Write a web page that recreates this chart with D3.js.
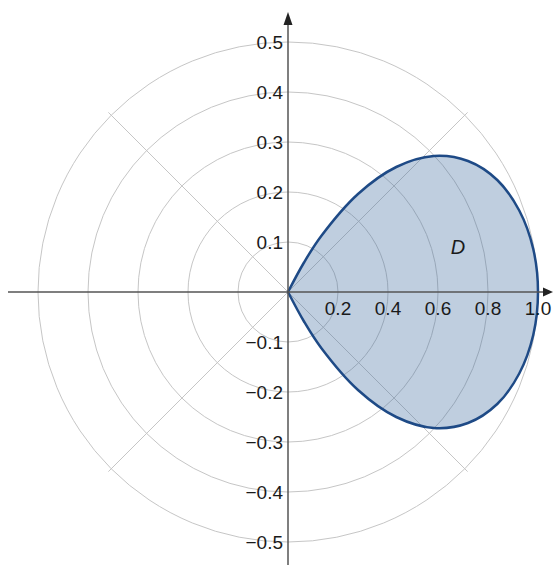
<!DOCTYPE html>
<html>
<head>
<meta charset="utf-8">
<script src="https://cdn.jsdelivr.net/npm/d3@7"></script>
<style>
  body { margin: 0; background: #fff; }
  text { font-family: "Liberation Sans", Arial, sans-serif; fill: #1a1a1a; }
</style>
</head>
<body>
<div id="chart"></div>
<script>
// polar grid rings (in x units) and spokes
const ringValues = [0.2, 0.4, 0.6, 0.8, 1.0];
const spokeAngles = [45, 135, 225, 315];

// tick labels
const xTicks = [0.2, 0.4, 0.6, 0.8, 1.0];
const yTicks = [-0.5, -0.4, -0.3, -0.2, -0.1, 0.1, 0.2, 0.3, 0.4, 0.5];

// boundary of region D (x, y), origin -> top -> tip -> bottom -> origin
const boundaryX = [0, 0.064, 0.133, 0.280, 0.433, 0.583, 0.720, 0.837, 0.925, 0.981, 1.0,
  0.981, 0.925, 0.837, 0.720, 0.583, 0.433, 0.280, 0.133, 0.064, 0];
const boundaryY = [0, 0.059, 0.112, 0.196, 0.250, 0.272, 0.262, 0.224, 0.163, 0.086, 0,
  -0.086, -0.163, -0.224, -0.262, -0.272, -0.250, -0.196, -0.112, -0.059, 0];

const regionLabel = { text: 'D', x: 0.68, y: 0.076 };

const width = 557;
const height = 565;

const xScale = d3.scaleLinear().domain([0, 1]).range([288, 538]);
const yScale = d3.scaleLinear().domain([0, 0.5]).range([292, 42]);
const cx = xScale(0);
const cy = yScale(0);

const svg = d3.select('#chart').append('svg')
  .attr('width', width)
  .attr('height', height);

// grid rings
svg.append('g')
  .selectAll('circle')
  .data(ringValues)
  .enter()
  .append('circle')
  .attr('cx', cx)
  .attr('cy', cy)
  .attr('r', d => xScale(d) - cx)
  .style('fill', 'none')
  .style('stroke', '#c6c6c6')
  .style('stroke-width', 1);

// spokes
const outerR = xScale(d3.max(ringValues)) - cx + 4;
svg.append('g')
  .selectAll('line')
  .data(spokeAngles)
  .enter()
  .append('line')
  .attr('x1', cx)
  .attr('y1', cy)
  .attr('x2', a => cx + outerR * Math.cos(a * Math.PI / 180))
  .attr('y2', a => cy - outerR * Math.sin(a * Math.PI / 180))
  .style('stroke', '#c6c6c6')
  .style('stroke-width', 1);

// region D
const pts = boundaryX.map((x, i) => [x, boundaryY[i]]);
const regionLine = d3.line()
  .curve(d3.curveCatmullRom)
  .x(d => xScale(d[0]))
  .y(d => yScale(d[1]));

svg.append('path')
  .attr('d', regionLine(pts) + 'Z')
  .style('fill', '#3d6a9e')
  .style('fill-opacity', 0.33)
  .style('stroke', '#1e4a86')
  .style('stroke-width', 2.5)
  .style('stroke-linejoin', 'round');

// axes
const axisColor = '#555';
svg.append('line')
  .attr('x1', 8).attr('y1', cy)
  .attr('x2', 546).attr('y2', cy)
  .style('stroke', axisColor)
  .style('stroke-width', 1.5);
svg.append('path')
  .attr('d', `M553,${cy} L543,${cy - 4.5} L543,${cy + 4.5} Z`)
  .style('fill', '#222');

svg.append('line')
  .attr('x1', cx).attr('y1', height)
  .attr('x2', cx).attr('y2', 20)
  .style('stroke', axisColor)
  .style('stroke-width', 1.5);
svg.append('path')
  .attr('d', `M${cx},12 L${cx - 4.5},25 L${cx + 4.5},25 Z`)
  .style('fill', '#222');

// tick labels
const fmt = d => d3.format('.1f')(d).replace('-', '\u2212');

svg.append('g')
  .selectAll('text')
  .data(xTicks)
  .enter()
  .append('text')
  .attr('x', d => xScale(d))
  .attr('y', cy + 23)
  .attr('text-anchor', 'middle')
  .style('font-size', '19px')
  .text(fmt);

svg.append('g')
  .selectAll('text')
  .data(yTicks)
  .enter()
  .append('text')
  .attr('x', cx - 5)
  .attr('y', d => yScale(d) + 7)
  .attr('text-anchor', 'end')
  .style('font-size', '19px')
  .text(fmt);

svg.append('text')
  .attr('x', xScale(regionLabel.x))
  .attr('y', yScale(regionLabel.y))
  .attr('text-anchor', 'middle')
  .style('font-size', '20px')
  .style('font-style', 'italic')
  .text(regionLabel.text);
</script>
</body>
</html>
